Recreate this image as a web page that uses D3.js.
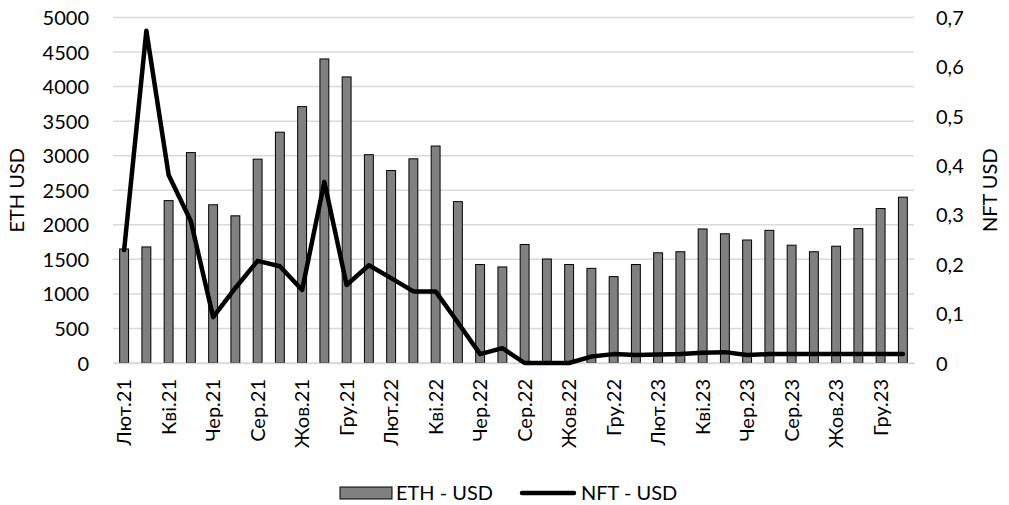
<!DOCTYPE html>
<html>
<head>
<meta charset="utf-8">
<script src="https://cdn.jsdelivr.net/npm/d3@7"></script>
<style>
  body { margin: 0; background: #fff; }
  text { font-family: Lato, "Noto Sans", sans-serif; fill: #000; }
</style>
</head>
<body>
<div class="chart"></div>
<script>
// ETH vs NFT prices, monthly Feb 2021 - Jan 2024

var months = [
  "Лют.21", "Бер.21", "Кві.21", "Тра.21", "Чер.21", "Лип.21", "Сер.21", "Вер.21", "Жов.21", "Лис.21", "Гру.21",
  "Січ.22", "Лют.22", "Бер.22", "Кві.22", "Тра.22", "Чер.22", "Лип.22", "Сер.22", "Вер.22", "Жов.22", "Лис.22", "Гру.22",
  "Січ.23", "Лют.23", "Бер.23", "Кві.23", "Тра.23", "Чер.23", "Лип.23", "Сер.23", "Вер.23", "Жов.23", "Лис.23", "Гру.23",
  "Січ.24"
];

var ethUsd = [
  1650, 1680, 2350, 3045, 2290, 2130, 2950, 3340, 3710, 4400, 4140,
  3015, 2785, 2955, 3140, 2335, 1425, 1390, 1715, 1505, 1425, 1370, 1250,
  1425, 1595, 1610, 1940, 1870, 1780, 1920, 1705, 1610, 1690, 1945, 2235,
  2400
];

var nftUsd = [
  0.229, 0.673, 0.381, 0.287, 0.093, 0.152, 0.207, 0.196, 0.148, 0.367, 0.158,
  0.198, 0.172, 0.145, 0.145, 0.082, 0.018, 0.030, 0.0, 0.0, 0.0, 0.013, 0.018,
  0.016, 0.017, 0.018, 0.021, 0.022, 0.016, 0.018, 0.018, 0.018, 0.018, 0.018, 0.018,
  0.018
];

var leftTicks = d3.range(0, 5001, 500);
var rightTicks = [0, 0.1, 0.2, 0.3, 0.4, 0.5, 0.6, 0.7];

var svgWidth = 1009;
var svgHeight = 505;
var fontSize = "20px";

var plotLeft = 113, plotRight = 914, plotTop = 17.5, plotBottom = 363;

var svg = d3.select(".chart")
  .append("svg")
  .attr("width", svgWidth)
  .attr("height", svgHeight);

// Scales
var x = d3.scaleBand()
  .domain(months)
  .range([plotLeft, plotRight])
  .paddingInner(0.6)
  .paddingOuter(0.3);

var yLeft = d3.scaleLinear().domain([0, 5000]).range([plotBottom, plotTop]);
var yRight = d3.scaleLinear().domain([0, 0.7]).range([plotBottom, plotTop]);

// Gridlines
svg.append("g")
  .selectAll("line")
  .data(leftTicks)
  .enter().append("line")
    .attr("x1", plotLeft)
    .attr("x2", plotRight)
    .attr("y1", function(d) { return yLeft(d); })
    .attr("y2", function(d) { return yLeft(d); })
    .attr("stroke", "#d9d9d9")
    .attr("stroke-width", 1.5);

// Left axis
var leftAxis = d3.axisLeft(yLeft).tickValues(leftTicks).tickSize(0).tickPadding(0)
  .tickFormat(d3.format("d"));
svg.append("g")
  .attr("transform", "translate(89,0)")
  .call(leftAxis)
  .call(function(g) { g.select(".domain").remove(); })
  .selectAll("text")
    .style("font-size", fontSize)
    .attr("dy", "0.35em");

// Right axis
var rightAxis = d3.axisRight(yRight).tickValues(rightTicks).tickSize(0).tickPadding(0)
  .tickFormat(function(d) { return d === 0 ? "0" : d3.format(".1f")(d).replace(".", ","); });
svg.append("g")
  .attr("transform", "translate(936,0)")
  .call(rightAxis)
  .call(function(g) { g.select(".domain").remove(); })
  .selectAll("text")
    .style("font-size", fontSize)
    .attr("dy", "0.35em");

// Bars
svg.append("g")
  .selectAll("rect")
  .data(ethUsd)
  .enter().append("rect")
    .attr("x", function(d, i) { return x(months[i]); })
    .attr("y", function(d) { return yLeft(d); })
    .attr("width", x.bandwidth())
    .attr("height", function(d) { return plotBottom - yLeft(d); })
    .attr("fill", "#808080")
    .attr("stroke", "#000")
    .attr("stroke-width", 1);

// Bottom axis
var bottomAxis = d3.axisBottom(x)
  .tickValues(months.filter(function(d, i) { return i % 2 === 0; }))
  .tickSize(0)
  .tickPadding(0);
svg.append("g")
  .attr("transform", "translate(0," + plotBottom + ")")
  .call(bottomAxis)
  .call(function(g) { g.select(".domain").attr("stroke", "#d9d9d9").attr("stroke-width", 1.5); })
  .selectAll("text")
    .style("font-size", fontSize)
    .attr("text-anchor", "end")
    .attr("transform", "rotate(-90)")
    .attr("x", -16)
    .attr("y", 0)
    .attr("dy", "0.35em");

// NFT line
var line = d3.line()
  .x(function(d, i) { return x(months[i]) + x.bandwidth() / 2; })
  .y(function(d) { return yRight(d); });

svg.append("path")
  .datum(nftUsd)
  .attr("d", line)
  .attr("fill", "none")
  .attr("stroke", "#000")
  .attr("stroke-width", 4.5)
  .attr("stroke-linejoin", "round")
  .attr("stroke-linecap", "round");

// Axis titles
svg.append("text")
  .attr("transform", "translate(17," + ((plotTop + plotBottom) / 2) + ") rotate(-90)")
  .attr("text-anchor", "middle")
  .attr("dy", "0.35em")
  .style("font-size", fontSize)
  .text("ETH USD");

svg.append("text")
  .attr("transform", "translate(990," + ((plotTop + plotBottom) / 2) + ") rotate(-90)")
  .attr("text-anchor", "middle")
  .attr("dy", "0.35em")
  .style("font-size", fontSize)
  .text("NFT USD");

// Legend
var legend = svg.append("g");
legend.append("rect")
  .attr("x", 340).attr("y", 487)
  .attr("width", 52).attr("height", 12)
  .attr("fill", "#808080")
  .attr("stroke", "#000")
  .attr("stroke-width", 1);
legend.append("text")
  .attr("x", 396).attr("y", 493)
  .attr("dy", "0.35em")
  .style("font-size", fontSize)
  .text("ETH - USD");
legend.append("line")
  .attr("x1", 522).attr("x2", 574)
  .attr("y1", 493).attr("y2", 493)
  .attr("stroke", "#000")
  .attr("stroke-width", 4.5)
  .attr("stroke-linecap", "round");
legend.append("text")
  .attr("x", 581).attr("y", 493)
  .attr("dy", "0.35em")
  .style("font-size", fontSize)
  .text("NFT - USD");
</script>
</body>
</html>
